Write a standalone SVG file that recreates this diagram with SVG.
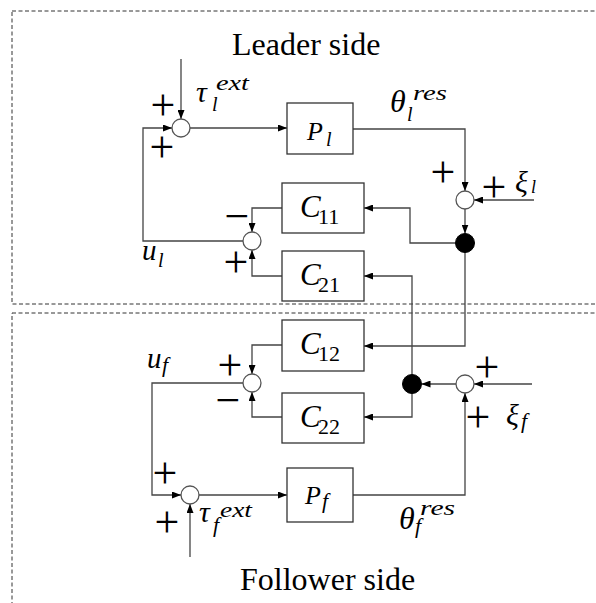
<svg xmlns="http://www.w3.org/2000/svg" width="596" height="603" viewBox="0 0 596 603">
<style>
.frame{fill:none;stroke:#333;stroke-width:1;stroke-dasharray:4 2.5}
.box{fill:#fff;stroke:#333;stroke-width:1.3}
.sum{fill:#fff;stroke:#555;stroke-width:1.3}
.dot{fill:#000;stroke:#000;stroke-width:1}
.wire{fill:none;stroke:#444;stroke-width:1.3;marker-end:url(#arr)}
</style>
<defs>
<marker id="arr" markerUnits="userSpaceOnUse" markerWidth="9" markerHeight="7" refX="9" refY="3.5" orient="auto">
<path d="M0,0 L9,3.5 L0,7 z" fill="#000"/>
</marker>
</defs>
<rect width="596" height="603" fill="#fff"/>
<g id="frames">
<rect class="frame" x="12" y="11" width="600" height="293"/>
<rect class="frame" x="12" y="313" width="600" height="320"/>
</g>
<g id="connectors">
<path class="wire" d="M181,59 V119"/>
<path class="wire" d="M243,241 H143 V128 H172"/>
<path class="wire" d="M190,128 H287"/>
<path class="wire" d="M353,129 H465 V191"/>
<path class="wire" d="M534,200 H474"/>
<path class="wire" d="M465,209 V233.5"/>
<path class="wire" d="M455.5,243 H410 V208 H364"/>
<path class="wire" d="M465,252 V346 H364"/>
<path class="wire" d="M282,208 H252 V232"/>
<path class="wire" d="M282,276 H252 V250"/>
<path class="wire" d="M412,374.5 V276 H364"/>
<path class="wire" d="M532,384 H474"/>
<path class="wire" d="M456,384 H421.5"/>
<path class="wire" d="M353,495 H465 V393"/>
<path class="wire" d="M412,393.5 V417 H364"/>
<path class="wire" d="M282,345 H252 V374"/>
<path class="wire" d="M282,417 H252 V392"/>
<path class="wire" d="M243,383 H152 V495 H181"/>
<path class="wire" d="M190,557 V504"/>
<path class="wire" d="M199,495 H287"/>
</g>
<g font-family="Liberation Serif, serif" fill="#000">
<g id="sumL1"><circle class="sum" cx="181" cy="128" r="9"/></g>
<g id="Pl"><rect class="box" x="287" y="103" width="66" height="51"/>
<text font-style="italic" x="307" y="140" font-size="26">P</text><text font-style="italic" x="326" y="146" font-size="20">l</text></g>
<g id="sumL2"><circle class="sum" cx="465" cy="200" r="9"/></g>
<g id="dotL"><circle class="dot" cx="465" cy="243" r="9.5"/></g>
<g id="C11"><rect class="box" x="282" y="183" width="82" height="50"/>
<text font-style="italic" x="300" y="217" font-size="31">C</text><text x="318" y="224" font-size="22">11</text></g>
<g id="C21"><rect class="box" x="282" y="251" width="82" height="50"/>
<text font-style="italic" x="300" y="285" font-size="31">C</text><text x="318" y="292" font-size="22">21</text></g>
<g id="sumL3"><circle class="sum" cx="252" cy="241" r="9"/></g>
<g id="C12"><rect class="box" x="282" y="320" width="82" height="51"/>
<text font-style="italic" x="300" y="354" font-size="31">C</text><text x="318" y="361" font-size="22">12</text></g>
<g id="C22"><rect class="box" x="282" y="393" width="82" height="50"/>
<text font-style="italic" x="300" y="427" font-size="31">C</text><text x="318" y="434" font-size="22">22</text></g>
<g id="sumF1"><circle class="sum" cx="252" cy="383" r="9"/></g>
<g id="dotF"><circle class="dot" cx="412" cy="384" r="9.5"/></g>
<g id="sumF2"><circle class="sum" cx="465" cy="384" r="9"/></g>
<g id="sumF3"><circle class="sum" cx="190" cy="495" r="9"/></g>
<g id="Pf"><rect class="box" x="287" y="468" width="66" height="54"/>
<text font-style="italic" x="305" y="504" font-size="26">P</text><text font-style="italic" x="322" y="508" font-size="22">f</text></g>
<g id="labels">
<text font-size="32" x="232" y="55">Leader side</text>
<text font-size="32" x="240" y="590">Follower side</text>
<g font-style="italic">
<text x="196" y="102" font-size="30">τ</text><text x="212" y="111" font-size="20">l</text><text x="216" y="90" font-size="22" textLength="33" lengthAdjust="spacingAndGlyphs">ext</text>
<text x="390" y="112" font-size="32">θ</text><text x="407" y="121" font-size="20">l</text><text x="413" y="100" font-size="22" textLength="34" lengthAdjust="spacingAndGlyphs">res</text>
<text x="515" y="192" font-size="30">ξ</text><text x="531" y="193" font-size="18">l</text>
<text x="142" y="260" font-size="29">u</text><text x="158" y="267" font-size="20">l</text>
<text x="147" y="368" font-size="29">u</text><text x="162" y="372" font-size="22">f</text>
<text x="506" y="425" font-size="30">ξ</text><text x="521" y="428" font-size="22">f</text>
<text x="399" y="529" font-size="32">θ</text><text x="415" y="533" font-size="22">f</text><text x="420" y="515" font-size="22" textLength="35" lengthAdjust="spacingAndGlyphs">res</text>
<text x="199" y="522" font-size="30">τ</text><text x="213" y="532" font-size="22">f</text><text x="220" y="517" font-size="22" textLength="32" lengthAdjust="spacingAndGlyphs">ext</text>
</g>
<g font-size="44" text-anchor="middle">
<text x="163" y="120">+</text>
<text x="162" y="162">+</text>
<text x="443" y="187">+</text>
<text x="494" y="202">+</text>
<text x="237" y="231">−</text>
<text x="236" y="277">+</text>
<text x="230" y="380">+</text>
<text x="228" y="415">−</text>
<text x="487" y="382">+</text>
<text x="478" y="432">+</text>
<text x="165" y="488">+</text>
<text x="167" y="537">+</text>
</g>
</g>
</g>
</svg>
